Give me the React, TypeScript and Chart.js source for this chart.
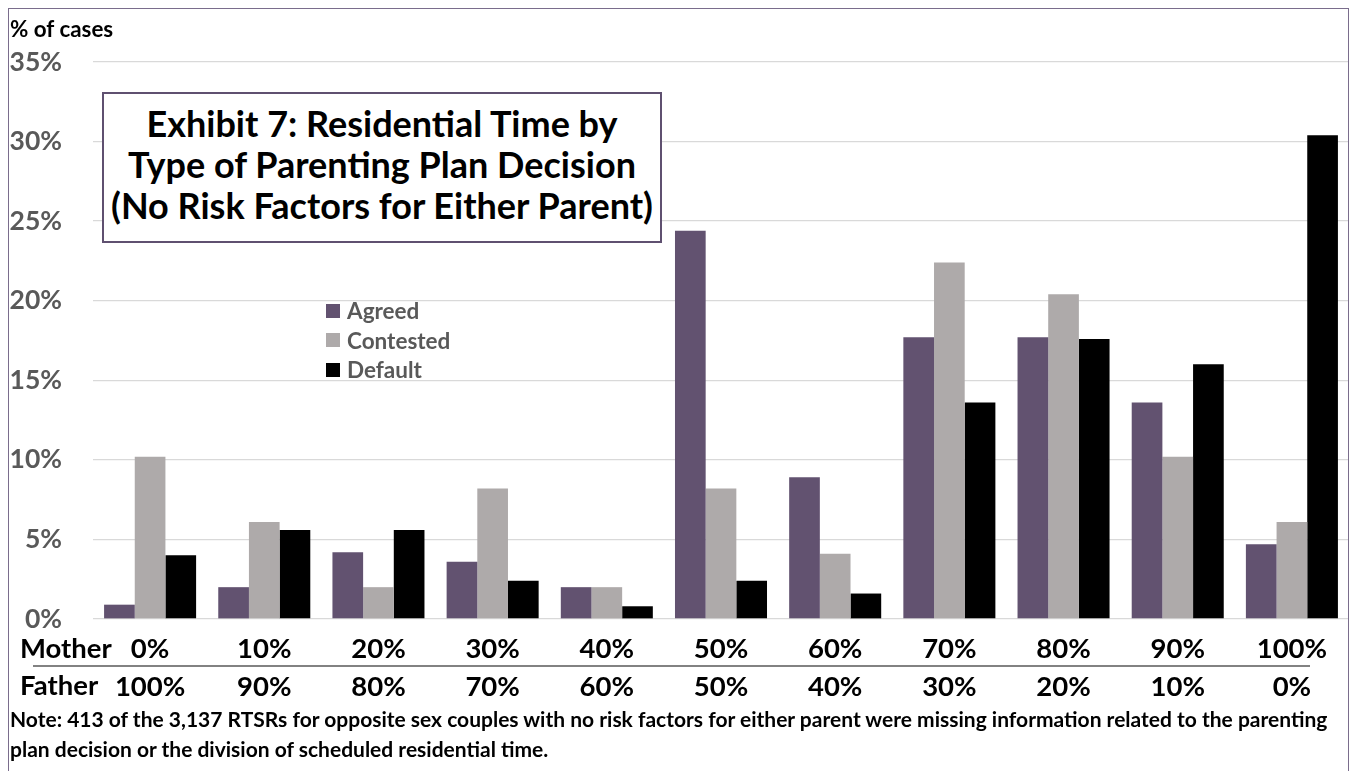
import { useEffect, useRef } from "react";
import Chart from "chart.js/auto";

const motherShare = ["0%", "10%", "20%", "30%", "40%", "50%", "60%", "70%", "80%", "90%", "100%"];
const fatherShare = ["100%", "90%", "80%", "70%", "60%", "50%", "40%", "30%", "20%", "10%", "0%"];

const agreed = [0.9, 2.0, 4.2, 3.6, 2.0, 24.4, 8.9, 17.7, 17.7, 13.6, 4.7];
const contested = [10.2, 6.1, 2.0, 8.2, 2.0, 8.2, 4.1, 22.4, 20.4, 10.2, 6.1];
const defaulted = [4.0, 5.6, 5.6, 2.4, 0.8, 2.4, 1.6, 13.6, 17.6, 16.0, 30.4];

const yTicks = [0, 5, 10, 15, 20, 25, 30, 35];

const FONT = "Lato, 'Open Sans', sans-serif";
const PURPLE = "#625270";
const GRAY = "#aeaaaa";

// draws the Mother / Father row captions and the rule between them
const rowLabels = {
  id: "rowLabels",
  afterDraw(chart: any) {
    const ctx = chart.ctx;
    ctx.save();
    ctx.font = `bold 27.5px ${FONT}`;
    ctx.fillStyle = "#000";
    ctx.textAlign = "left";
    ctx.textBaseline = "middle";
    ctx.fillText("Mother", 20, 649);
    ctx.fillText("Father", 20, 686);
    ctx.strokeStyle = "#595959";
    ctx.lineWidth = 1.5;
    ctx.beginPath();
    ctx.moveTo(33, 666);
    ctx.lineTo(1310, 666);
    ctx.stroke();
    ctx.restore();
  },
};

const App = () => {
  const canvasRef = useRef<HTMLCanvasElement | null>(null);
  const chartRef = useRef<Chart | null>(null);

  useEffect(() => {
    document.body.style.margin = "0";
    if (!canvasRef.current) return;
    if (chartRef.current) chartRef.current.destroy();

    chartRef.current = new Chart(canvasRef.current, {
      type: "bar",
      data: {
        labels: motherShare,
        datasets: [
          { label: "Agreed", data: agreed, backgroundColor: PURPLE },
          { label: "Contested", data: contested, backgroundColor: GRAY },
          { label: "Default", data: defaulted, backgroundColor: "#000000" },
        ],
      },
      options: {
        responsive: false,
        animation: false,
        events: [],
        layout: { padding: { top: 62, right: 2, left: 0, bottom: 0 } },
        plugins: { legend: { display: false }, tooltip: { enabled: false } },
        datasets: {
          bar: { categoryPercentage: 0.806, barPercentage: 1 },
        },
        scales: {
          x: {
            afterFit: (s: any) => {
              s.height = 152;
            },
            grid: { display: false, drawTicks: false },
            border: { display: false },
            ticks: {
              autoSkip: false,
              maxRotation: 0,
              padding: 11,
              color: "#000",
              font: { family: FONT, size: 27.5, weight: "bold", lineHeight: 1.38 },
              callback: (_v: any, i: number) => [motherShare[i], fatherShare[i]],
            },
          },
          y: {
            min: 0,
            max: 35,
            afterFit: (s: any) => {
              s.width = 93;
            },
            afterBuildTicks: (s: any) => {
              s.ticks = yTicks.map((v) => ({ value: v }));
            },
            grid: { color: "#d9d9d9", lineWidth: 1.3, drawTicks: false },
            border: { display: false },
            ticks: {
              padding: 31,
              color: "#595959",
              font: { family: FONT, size: 26.5, weight: "bold" },
              callback: (v: any) => `${v}%`,
            },
          },
        },
      },
      plugins: [rowLabels],
    });

    return () => {
      if (chartRef.current) {
        chartRef.current.destroy();
        chartRef.current = null;
      }
    };
  }, []);

  const legendItems = [
    { label: "Agreed", color: PURPLE },
    { label: "Contested", color: GRAY },
    { label: "Default", color: "#000" },
  ];

  return (
    <div style={{ position: "relative", width: 1351, height: 771, background: "#fff", fontFamily: FONT, overflow: "hidden" }}>
      <canvas ref={canvasRef} width={1351} height={771} style={{ position: "absolute", left: 0, top: 0 }} />
      <div
        style={{
          position: "absolute",
          left: 8,
          top: 8,
          width: 1341,
          height: 800,
          border: "1.5px solid #7a6d8c",
          boxSizing: "border-box",
          pointerEvents: "none",
        }}
      />
      <div style={{ position: "absolute", left: 10, top: 15, fontSize: 22.4, fontWeight: 700, color: "#000", lineHeight: "28px" }}>
        % of cases
      </div>
      <div
        style={{
          position: "absolute",
          left: 102,
          top: 92,
          width: 560,
          height: 151,
          boxSizing: "border-box",
          border: "2px solid #5f5070",
          background: "#fff",
          display: "flex",
          alignItems: "center",
          justifyContent: "center",
          textAlign: "center",
          fontSize: 36,
          fontWeight: 700,
          lineHeight: "41px",
          color: "#000",
        }}
      >
        <div style={{ marginTop: -6 }}>
          Exhibit 7: Residential Time by
          <br />
          Type of Parenting Plan Decision
          <br />
          (No Risk Factors for Either Parent)
        </div>
      </div>
      <div style={{ position: "absolute", left: 326, top: 296 }}>
        {legendItems.map((it) => (
          <div key={it.label} style={{ display: "flex", alignItems: "center", height: 29.5 }}>
            <span style={{ width: 14, height: 14, background: it.color, display: "inline-block", marginRight: 7 }} />
            <span style={{ fontSize: 22.5, fontWeight: 700, color: "#595959" }}>{it.label}</span>
          </div>
        ))}
      </div>
      <div
        style={{
          position: "absolute",
          left: 10,
          top: 704,
          width: 1335,
          fontSize: 21,
          fontWeight: 700,
          lineHeight: "30px",
          color: "#000",
          whiteSpace: "nowrap",
        }}
      >
        Note: 413 of the 3,137 RTSRs for opposite sex couples with no risk factors for either parent were missing information related to the parenting
        <br />
        plan decision or the division of scheduled residential time.
      </div>
    </div>
  );
};

export default App;
